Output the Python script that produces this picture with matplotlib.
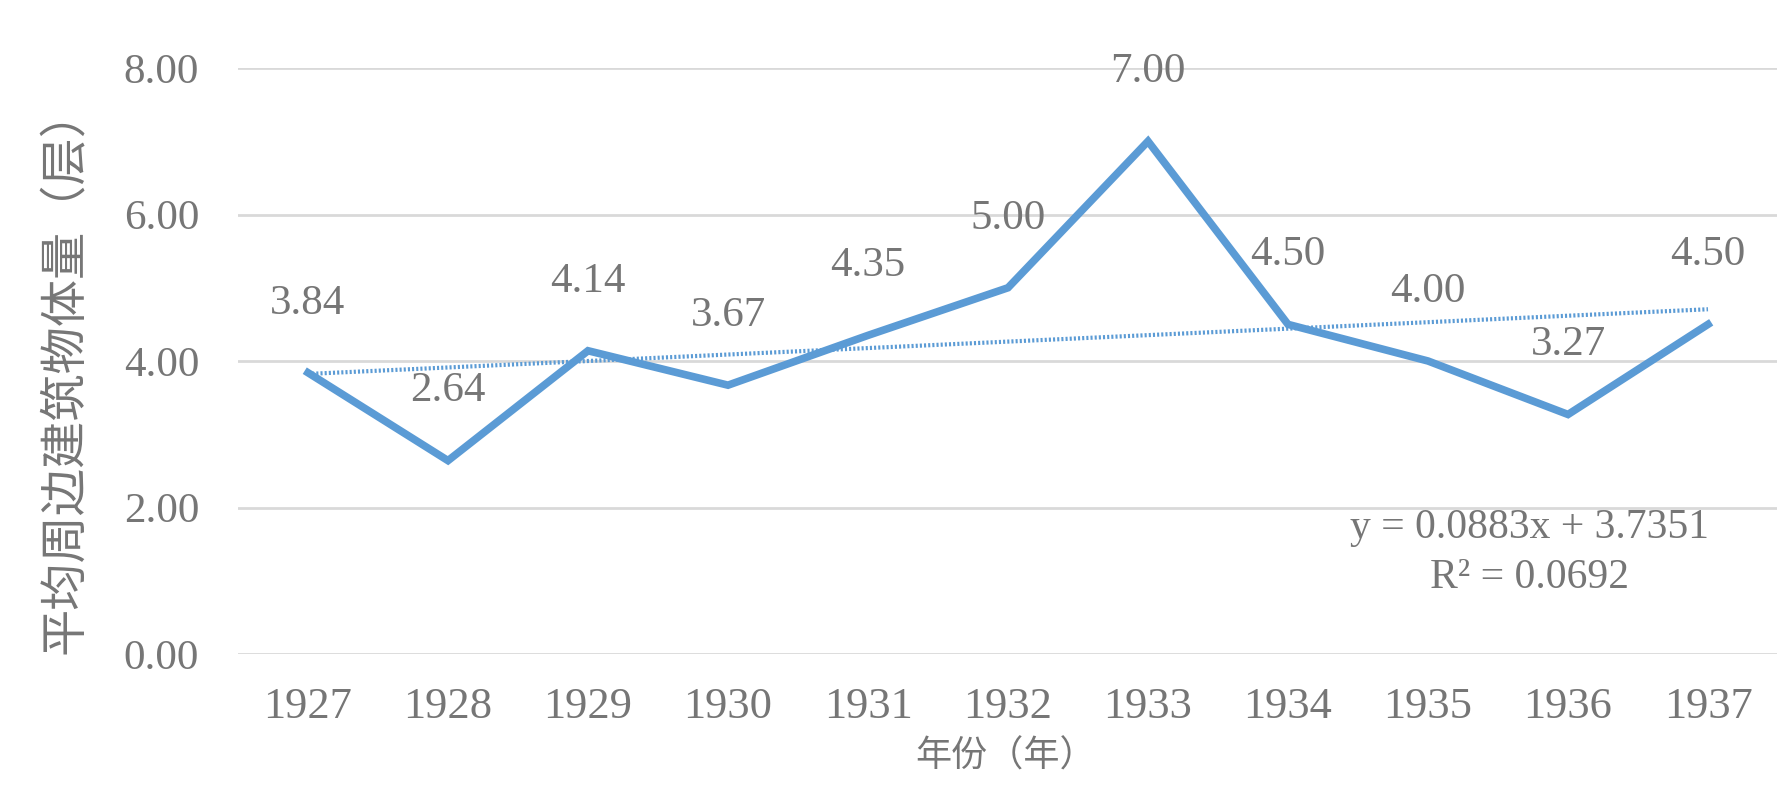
import numpy as np
import matplotlib
matplotlib.use("Agg")
import matplotlib.pyplot as plt

years = ["1927", "1928", "1929", "1930", "1931", "1932", "1933", "1934", "1935", "1936", "1937"]
values = [3.84, 2.64, 4.14, 3.67, 4.35, 5.00, 7.00, 4.50, 4.00, 3.27, 4.50]
trend_slope = 0.0883
trend_intercept = 3.7351
r_squared = 0.0692
y_ticks = [0, 2, 4, 6, 8]

line_color = "#5B9BD5"
text_color = "#767676"
num_font = ["Liberation Serif", "DejaVu Serif"]
cjk_font = ["Noto Sans CJK SC", "DejaVu Sans"]

fig = plt.figure(figsize=(17.77, 7.87), dpi=100)
ax = fig.add_axes([238 / 1777, 133 / 787, 1540 / 1777, 586 / 787])

x = np.arange(len(years))
ax.plot(x, values, color=line_color, lw=5.5, solid_joinstyle="miter", zorder=3)

# linear trend line (x counted from 1 for the first year)
trend = trend_slope * (x + 1) + trend_intercept
ax.plot(x, trend, color=line_color, lw=3, ls=(0, (0.5, 0.5)), zorder=2)

for xi, v in zip(x, values):
    ax.annotate(f"{v:.2f}", (xi, v), xytext=(0, 50), textcoords="offset points",
                ha="center", va="center", fontsize=31, color=text_color,
                family=num_font, zorder=4)

ax.set_xlim(-0.5, len(years) - 0.5)
ax.set_ylim(0, 8)
ax.set_yticks(y_ticks)
ax.set_yticklabels([f"{t:.2f}" for t in y_ticks], family=num_font, fontsize=31, color=text_color)
ax.set_xticks(x)
ax.set_xticklabels(years, family=num_font, fontsize=32, color=text_color)
ax.tick_params(axis="both", length=0)
ax.tick_params(axis="y", pad=28)
ax.tick_params(axis="x", pad=24)
ax.grid(axis="y", color="#d9d9d9", lw=2)
ax.set_axisbelow(True)
for s in ax.spines.values():
    s.set_visible(False)

ax.text(1529 / 1777, 1 - 553 / 787,
        f"y = {trend_slope:.4f}x + {trend_intercept:.4f}\nR² = {r_squared:.4f}",
        transform=fig.transFigure, ha="center", va="center", fontsize=30,
        color=text_color, family=num_font, linespacing=1.4, multialignment="center")

fig.text(1006 / 1777, 1 - 757 / 787, "年份（年）", ha="center", va="center",
         fontsize=26, color=text_color, family=cjk_font)
fig.text(66 / 1777, 1 - 371 / 787, "平均周边建筑物体量（层）", ha="center", va="center",
         rotation=90, fontsize=34, color=text_color, family=cjk_font)

fig.savefig("out.png", dpi=100)
